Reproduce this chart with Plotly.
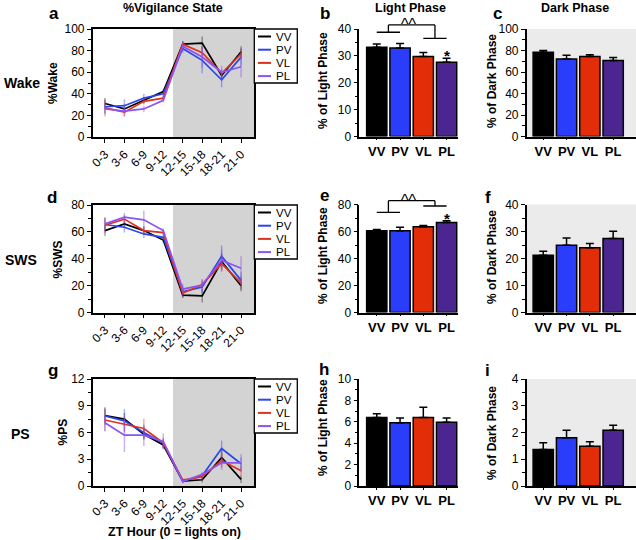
import plotly.graph_objects as go

W, H = 636, 540
FONT = "Liberation Sans, Arial, sans-serif"

# ---------------- data ----------------
zt_bins = ["0-3", "3-6", "6-9", "9-12", "12-15", "15-18", "18-21", "21-0"]
groups = ["VV", "PV", "VL", "PL"]

# %Wake per 3-h bin
wake_VV = [31, 26, 34, 42, 86, 87, 57, 79]
wake_PV = [28, 29, 36, 40, 82, 71, 53, 74]
wake_VL = [27, 23, 33, 36, 86, 78, 59, 77]
wake_PL = [26, 24, 26, 34, 84, 74, 60, 65]
wake_VV_err = [5, 4, 3, 2, 3, 6, 4, 5]
wake_PV_err = [6, 6, 4, 3, 4, 12, 7, 8]
wake_VL_err = [8, 4, 3, 2, 3, 5, 4, 5]
wake_PL_err = [5, 5, 3, 2, 4, 10, 6, 10]

# %SWS per 3-h bin
sws_VV = [61, 66, 61, 54, 13, 12.5, 38, 20]
sws_PV = [65.5, 63.5, 58.5, 56, 15.5, 19, 42, 24]
sws_VL = [65, 69.5, 61, 59.5, 14.5, 21, 36.5, 22]
sws_PL = [66, 71, 69, 61, 17.5, 20.5, 39, 33]
sws_VV_err = [4, 3, 3, 2, 2, 5, 6, 4]
sws_PV_err = [5, 4, 3, 2, 4, 4, 8, 6]
sws_VL_err = [6, 3, 3, 2, 3, 4, 6, 5]
sws_PL_err = [4, 3, 7, 2, 4, 4, 8, 9]

# %PS per 3-h bin
ps_VV = [7.9, 7.5, 5.8, 4.6, 0.55, 0.7, 3.2, 0.75]
ps_PV = [7.85, 7.3, 6.0, 4.8, 0.55, 1.15, 4.2, 2.5]
ps_VL = [7.4, 6.95, 6.45, 4.85, 0.65, 1.05, 2.85, 1.7]
ps_PL = [7.1, 5.7, 5.7, 5.0, 0.5, 1.3, 2.6, 2.6]
ps_VV_err = [0.8, 0.7, 0.6, 0.4, 0.2, 0.3, 0.8, 0.4]
ps_PV_err = [1.0, 1.3, 0.7, 0.5, 0.2, 0.3, 0.9, 0.7]
ps_VL_err = [1.3, 0.8, 1.1, 0.6, 0.2, 0.4, 0.8, 0.6]
ps_PL_err = [0.9, 1.9, 1.2, 0.9, 0.2, 0.3, 0.8, 1.0]

# phase totals (mean, SEM)
wake_light = [33.2, 32.9, 29.8, 27.6]
wake_light_err = [1.2, 1.7, 1.5, 1.5]
wake_dark = [78.3, 72.0, 74.5, 70.8]
wake_dark_err = [1.7, 3.5, 1.5, 2.8]
sws_light = [60.5, 60.6, 63.5, 66.7]
sws_light_err = [1.0, 2.6, 0.9, 1.2]
sws_dark = [21.2, 24.9, 24.0, 27.4]
sws_dark_err = [1.5, 2.7, 1.6, 2.7]
ps_light = [6.4, 5.9, 6.4, 5.95]
ps_light_err = [0.35, 0.45, 0.95, 0.4]
ps_dark = [1.36, 1.8, 1.49, 2.08]
ps_dark_err = [0.26, 0.28, 0.16, 0.19]

# ---------------- styles ----------------
line_colors = {"VV": "#000000", "PV": "#2b46f0", "VL": "#e0301e", "PL": "#8b52f5"}
err_colors = {"VV": "rgba(0,0,0,0.35)", "PV": "rgba(43,70,240,0.4)",
              "VL": "rgba(224,48,30,0.4)", "PL": "rgba(139,82,245,0.45)"}
bar_colors = ["#000000", "#2a3dfb", "#e32d08", "#4b2590"]


def fx(px):
    return px / W


def fy(py):
    return 1 - py / H


def aid(letter, n):
    return letter if n == 1 else f"{letter}{n}"


fig = go.Figure()

# pixel geometry
LX = (92.7, 254.3)
BLX = (359.3, 458.0)
BDX = (526.7, 636.0)
ROWS = [(29.0, 137.0), (205.0, 312.7), (379.0, 486.0)]
BROWS = [(29.0, 136.5), (204.5, 312.5), (379.0, 486.0)]
LINE_XR = [-0.63, 7.68]

line_sets = [
    (dict(VV=wake_VV, PV=wake_PV, VL=wake_VL, PL=wake_PL),
     dict(VV=wake_VV_err, PV=wake_PV_err, VL=wake_VL_err, PL=wake_PL_err), 100, 20, 10),
    (dict(VV=sws_VV, PV=sws_PV, VL=sws_VL, PL=sws_PL),
     dict(VV=sws_VV_err, PV=sws_PV_err, VL=sws_VL_err, PL=sws_PL_err), 80, 20, 10),
    (dict(VV=ps_VV, PV=ps_PV, VL=ps_VL, PL=ps_PL),
     dict(VV=ps_VV_err, PV=ps_PV_err, VL=ps_VL_err, PL=ps_PL_err), 12, 3, 1.5),
]
bar_sets = [
    (wake_light, wake_light_err, 40, 10, 5, wake_dark, wake_dark_err, 100, 20, 10),
    (sws_light, sws_light_err, 80, 20, 10, sws_dark, sws_dark_err, 40, 10, 5),
    (ps_light, ps_light_err, 10, 2, 1, ps_dark, ps_dark_err, 4, 1, 0.5),
]

axis_common = dict(showline=True, linecolor="black", linewidth=1.5, ticks="outside",
                   ticklen=4, tickwidth=1.3, tickcolor="black", showgrid=False,
                   zeroline=False, automargin=False,
                   tickfont=dict(family=FONT, size=12, color="black"))

layout_axes = {}
shapes = []
annotations = []

for r in range(3):
    vals, errs, ymax, dt, mdt = line_sets[r]
    ln = 3 * r + 1
    xa, ya = aid("x", ln), aid("y", ln)
    for g in groups:
        fig.add_trace(go.Scatter(
            x=list(range(len(zt_bins))), y=vals[g], mode="lines", name=g,
            line=dict(color=line_colors[g], width=1.7), showlegend=False,
            error_y=dict(type="data", array=errs[g], color=err_colors[g], thickness=1.5, width=0),
            xaxis=xa, yaxis=ya))
    y0, y1 = ROWS[r]
    layout_axes["xaxis" if ln == 1 else f"xaxis{ln}"] = dict(
        axis_common, domain=[fx(LX[0]), fx(LX[1])], range=LINE_XR,
        tickvals=list(range(len(zt_bins))), ticktext=zt_bins,
        tickangle=-45, mirror=True, anchor=ya)
    layout_axes["yaxis" if ln == 1 else f"yaxis{ln}"] = dict(
        axis_common, domain=[fy(y1), fy(y0)], range=[0, ymax],
        dtick=dt, tick0=0, mirror=True, anchor=xa,
        minor=dict(dtick=mdt, ticks="outside", ticklen=2.5, tickwidth=1.2, tickcolor="black"))
    # dark-phase shading
    shapes.append(dict(type="rect", xref=xa, yref=f"{ya} domain", x0=3.5, x1=LINE_XR[1],
                       y0=0, y1=1, fillcolor="#d3d3d3", line=dict(width=0), layer="below"))
    # legend box
    top = y0
    shapes.append(dict(type="rect", xref="paper", yref="paper", x0=fx(LX[1]), x1=fx(297.3),
                       y0=fy(top + 54), y1=fy(top), line=dict(color="black", width=1.3),
                       fillcolor="white"))
    for k, g in enumerate(groups):
        yy = top + 7.5 + 13.2 * k
        shapes.append(dict(type="line", xref="paper", yref="paper", x0=fx(258), x1=fx(271),
                           y0=fy(yy), y1=fy(yy), line=dict(color=line_colors[g], width=2)))
        annotations.append(dict(text=g, xref="paper", yref="paper", x=fx(274), y=fy(yy),
                                xanchor="left", yanchor="middle", showarrow=False,
                                font=dict(family=FONT, size=11.5, color="black")))

    # bars
    lv, le, lmax, ldt, lmdt, dv, de, dmax, ddt, dmdt = bar_sets[r]
    by0, by1 = BROWS[r]
    for j, (v, e, ymx, d1, d2, xdom, xr, shade) in enumerate([
            (lv, le, lmax, ldt, lmdt, BLX, [-0.75, 3.49], False),
            (dv, de, dmax, ddt, dmdt, BDX, [-0.71, 3.98], True)]):
        n = 3 * r + 2 + j
        xa, ya = aid("x", n), aid("y", n)
        fig.add_trace(go.Bar(
            x=list(range(4)), y=v, width=0.87, showlegend=False,
            marker=dict(color=bar_colors, line=dict(color="black", width=1.5)),
            error_y=dict(type="data", array=e, arrayminus=[0] * 4, symmetric=False,
                         color="black", thickness=1.5, width=4),
            xaxis=xa, yaxis=ya))
        layout_axes[f"xaxis{n}"] = dict(axis_common, domain=[fx(xdom[0]), min(1.0, fx(xdom[1]))],
                                        range=xr, tickvals=list(range(4)), ticktext=groups,
                                        anchor=ya, ticklen=2,
                                        tickfont=dict(family=FONT, size=13, color="black",
                                                      weight="bold"))
        layout_axes[f"yaxis{n}"] = dict(axis_common, domain=[fy(by1), fy(by0)], range=[0, ymx],
                                        dtick=d1, tick0=0, anchor=xa,
                                        minor=dict(dtick=d2, ticks="outside", ticklen=2.5,
                                                   tickwidth=1.2, tickcolor="black"))
        if shade:
            shapes.append(dict(type="rect", xref=f"{xa} domain", yref=f"{ya} domain",
                               x0=0, x1=1, y0=0, y1=1, fillcolor="#ebebeb",
                               line=dict(width=0), layer="below"))


# significance brackets (b: x2/y2, e: x5/y5)
def bracket(xa, ya, ymax, yb1, yb2, ytop, ycaret, ystar):
    yd = f"{ya} domain"
    seg = [(0, yb1, 1, yb1), (2, yb2, 3, yb2), (0.5, yb1, 0.5, ytop),
           (0.5, ytop, 2.5, ytop), (2.5, ytop, 2.5, yb2)]
    for x0, ya0, x1, ya1 in seg:
        shapes.append(dict(type="line", xref=xa, yref=yd, x0=x0, x1=x1,
                           y0=ya0 / ymax, y1=ya1 / ymax, line=dict(color="black", width=1.3)))
    annotations.append(dict(text="^^", xref=xa, yref=yd, x=1.4, y=ycaret / ymax, showarrow=False,
                            yanchor="middle", font=dict(family=FONT, size=16, color="black")))
    annotations.append(dict(text="<b>*</b>", xref=xa, yref=yd, x=3, y=ystar / ymax,
                            showarrow=False, yanchor="middle",
                            font=dict(family=FONT, size=15, color="black")))


bracket("x2", "y2", 40, 38.8, 36.5, 41.5, 41.7, 30.3)
bracket("x5", "y5", 80, 74.2, 78.9, 82.8, 83.3, 69.8)


def txt(s, x, y, size, bold=True, angle=0):
    annotations.append(dict(text=f"<b>{s}</b>" if bold else s, xref="paper", yref="paper",
                            x=fx(x), y=fy(y), xanchor="center", yanchor="middle",
                            showarrow=False, textangle=angle,
                            font=dict(family=FONT, size=size, color="black")))


# titles
txt("%Vigilance State", 173, 8, 12.5)
txt("Light Phase", 410.7, 8, 12.5)
txt("Dark Phase", 575, 8, 12.5)
txt("ZT Hour (0 = lights on)", 174, 531.5, 12.5)
# row labels
txt("Wake", 22, 83, 14)
txt("SWS", 20.5, 260, 14)
txt("PS", 20, 434, 14)
# panel letters
for s, x, y in [("a", 54, 14), ("b", 325, 14), ("c", 497, 14),
                ("d", 52, 197), ("e", 324, 196), ("f", 488, 197),
                ("g", 53, 370), ("h", 324, 369), ("i", 487, 370)]:
    txt(s, x, y, 17)
# y-axis titles
txt("%Wake", 53, 83, 12, angle=-90)
txt("%SWS", 57.5, 259, 12, angle=-90)
txt("%PS", 62, 432.5, 12, angle=-90)
txt("% of Light Phase", 323, 81, 12, angle=-90)
txt("% of Dark Phase", 492, 81, 12, angle=-90)
txt("% of Light Phase", 323, 256, 12, angle=-90)
txt("% of Dark Phase", 492, 257, 12, angle=-90)
txt("% of Light Phase", 323, 428, 12, angle=-90)
txt("% of Dark Phase", 492, 433, 12, angle=-90)

fig.update_layout(width=W, height=H,
                  margin=dict(l=0, r=0, t=0, b=0, pad=0, autoexpand=False),
                  paper_bgcolor="white", plot_bgcolor="white",
                  showlegend=False, shapes=shapes, annotations=annotations,
                  font=dict(family=FONT, color="black"), **layout_axes)

# place the figure at the page's top-left corner (remove the default body margin)
fig.write_html("out.html", config={"displayModeBar": False},
               post_script="document.body.style.margin='0px';")
